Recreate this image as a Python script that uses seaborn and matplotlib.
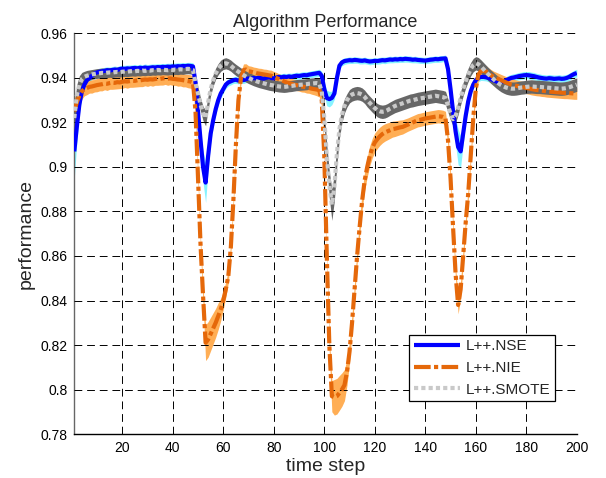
import numpy as np
import pandas as pd
import matplotlib
matplotlib.use("Agg")
import matplotlib.pyplot as plt
import seaborn as sns

# ---- data -----------------------------------------------------------------
time_step = list(range(1, 201))

nse = [
    0.907, 0.918, 0.928, 0.934, 0.937, 0.939, 0.940, 0.941, 0.942, 0.9425,
    0.9428, 0.943, 0.9432, 0.9435, 0.9433, 0.9436, 0.9438, 0.9436, 0.944, 0.9442,
    0.9441, 0.9443, 0.9442, 0.9444, 0.9445, 0.9443, 0.9446, 0.9444, 0.9447, 0.9445,
    0.9446, 0.9448, 0.9447, 0.9449, 0.9448, 0.945, 0.9449, 0.9451, 0.945, 0.9452,
    0.9451, 0.9453, 0.9452, 0.9454, 0.9453, 0.9455, 0.9454, 0.9452, 0.938, 0.925,
    0.912, 0.900, 0.893, 0.905, 0.915, 0.921, 0.926, 0.930, 0.933, 0.935,
    0.937, 0.938, 0.9385, 0.939, 0.9392, 0.9388, 0.9393, 0.939, 0.9395, 0.9398,
    0.9396, 0.9400, 0.9398, 0.9402, 0.9399, 0.9397, 0.9401, 0.9403, 0.9400, 0.9398,
    0.9402, 0.9405, 0.9403, 0.9406, 0.9404, 0.9407, 0.9405, 0.9408, 0.9410, 0.9409,
    0.9411, 0.9413, 0.9412, 0.9415, 0.9417, 0.9419, 0.9421, 0.9423, 0.941, 0.935,
    0.931, 0.9305, 0.931, 0.933, 0.940, 0.9455, 0.9470, 0.9476, 0.9478, 0.9480,
    0.9479, 0.9481, 0.9480, 0.9478, 0.9477, 0.9479, 0.9476, 0.9474, 0.9475, 0.9477,
    0.9476, 0.9478, 0.9480, 0.9479, 0.9481, 0.9483, 0.9482, 0.9484, 0.9483, 0.9485,
    0.9484, 0.9486, 0.9485, 0.9484, 0.9482, 0.9483, 0.9481, 0.948, 0.9479, 0.9478,
    0.9480, 0.9482, 0.9483, 0.9485, 0.9484, 0.9486, 0.9487, 0.9488, 0.944, 0.935,
    0.925, 0.916, 0.909, 0.907, 0.915, 0.923, 0.9295, 0.934, 0.937, 0.939,
    0.940, 0.9405, 0.9405, 0.9403, 0.940, 0.9395, 0.939, 0.9385, 0.938, 0.9382,
    0.9386, 0.939, 0.9395, 0.9400, 0.9402, 0.9405, 0.9408, 0.941, 0.9412, 0.9413,
    0.9412, 0.941, 0.9408, 0.9405, 0.9402, 0.9400, 0.9398, 0.9397, 0.9399, 0.9398,
    0.9396, 0.9397, 0.9398, 0.9396, 0.9397, 0.940, 0.9405, 0.9412, 0.9418, 0.9422,
]

nie = [
    0.925, 0.929, 0.932, 0.934, 0.935, 0.9355, 0.936, 0.9362, 0.9365, 0.9368,
    0.937, 0.9372, 0.9375, 0.9374, 0.9377, 0.9379, 0.9378, 0.9381, 0.938, 0.9383,
    0.9385, 0.9384, 0.9386, 0.9388, 0.9387, 0.939, 0.9389, 0.9391, 0.9393, 0.9392,
    0.9394, 0.9393, 0.9395, 0.9397, 0.9396, 0.9398, 0.9399, 0.9397, 0.9398, 0.9396,
    0.9395, 0.9393, 0.9392, 0.939, 0.9388, 0.9386, 0.9384, 0.938, 0.925, 0.895,
    0.865, 0.842, 0.821, 0.8225, 0.825, 0.8275, 0.830, 0.833, 0.836, 0.840,
    0.845, 0.851, 0.864, 0.885, 0.910, 0.930, 0.940, 0.9435, 0.9438, 0.943,
    0.9428, 0.9425, 0.9422, 0.942, 0.9418, 0.9416, 0.9414, 0.9412, 0.941, 0.9405,
    0.940, 0.9395, 0.939, 0.9385, 0.938, 0.9377, 0.9374, 0.937, 0.9368, 0.9365,
    0.9362, 0.936, 0.9357, 0.9355, 0.9352, 0.935, 0.9348, 0.9345, 0.930, 0.905,
    0.860, 0.820, 0.797, 0.7965, 0.797, 0.7985, 0.800, 0.802, 0.808, 0.817,
    0.830, 0.845, 0.860, 0.873, 0.885, 0.894, 0.900, 0.905, 0.9085, 0.911,
    0.9125, 0.9138, 0.9148, 0.9155, 0.916, 0.9165, 0.917, 0.9172, 0.9175, 0.9178,
    0.918, 0.9185, 0.919, 0.9195, 0.920, 0.9205, 0.921, 0.9212, 0.9215, 0.9218,
    0.922, 0.9222, 0.9224, 0.9226, 0.9228, 0.9227, 0.9225, 0.922, 0.912, 0.895,
    0.873, 0.852, 0.838, 0.845, 0.860, 0.875, 0.888, 0.905, 0.922, 0.935,
    0.9415, 0.943, 0.9432, 0.943, 0.942, 0.9412, 0.9405, 0.940, 0.9395, 0.939,
    0.9385, 0.938, 0.9375, 0.937, 0.9368, 0.9365, 0.9362, 0.936, 0.9358, 0.9355,
    0.9353, 0.935, 0.9348, 0.9346, 0.9345, 0.9343, 0.9342, 0.934, 0.9339, 0.9338,
    0.9337, 0.9336, 0.9335, 0.9334, 0.9333, 0.9333, 0.9332, 0.9331, 0.933, 0.933,
]

smote = [
    0.922, 0.932, 0.937, 0.9395, 0.9405, 0.941, 0.9413, 0.9416, 0.9418, 0.942,
    0.9421, 0.9423, 0.9422, 0.9424, 0.9425, 0.9424, 0.9426, 0.9427, 0.9426, 0.9428,
    0.9429, 0.9428, 0.943, 0.9431, 0.943, 0.9432, 0.9431, 0.9433, 0.9432, 0.9434,
    0.9433, 0.9435, 0.9434, 0.9436, 0.9435, 0.9437, 0.9436, 0.9435, 0.9437, 0.9436,
    0.9438, 0.9437, 0.9439, 0.9438, 0.944, 0.9441, 0.944, 0.9436, 0.938, 0.933,
    0.928, 0.924, 0.922, 0.929, 0.935, 0.939, 0.942, 0.944, 0.9455, 0.9463,
    0.9466, 0.9462, 0.9455, 0.9445, 0.9436, 0.9428, 0.942, 0.9413, 0.9406, 0.940,
    0.9395, 0.939, 0.9386, 0.9382, 0.9379, 0.9376, 0.9373, 0.937, 0.9368, 0.9366,
    0.9364, 0.9362, 0.9361, 0.936, 0.9361, 0.9363, 0.9364, 0.9366, 0.9368, 0.9369,
    0.937, 0.9371, 0.9372, 0.9374, 0.9375, 0.9376, 0.9377, 0.9375, 0.934, 0.922,
    0.905, 0.892, 0.883, 0.891, 0.906, 0.917, 0.9235, 0.9275, 0.930, 0.9318,
    0.9326, 0.933, 0.9332, 0.933, 0.9325, 0.9315, 0.930, 0.9288, 0.9276, 0.9265,
    0.9255, 0.925, 0.9248, 0.925, 0.9255, 0.9262, 0.9268, 0.9274, 0.9278, 0.9282,
    0.9286, 0.929, 0.9294, 0.9298, 0.930, 0.9303, 0.9306, 0.9308, 0.931, 0.9312,
    0.9314, 0.9316, 0.9318, 0.932, 0.9318, 0.9316, 0.9314, 0.931, 0.9275, 0.924,
    0.9215, 0.923, 0.9265, 0.931, 0.935, 0.9385, 0.9415, 0.944, 0.9458, 0.9466,
    0.9462, 0.9452, 0.944, 0.9428, 0.9416, 0.9405, 0.9395, 0.9385, 0.9376, 0.9368,
    0.9362, 0.9357, 0.9354, 0.9352, 0.9352, 0.9353, 0.9355, 0.9357, 0.9358, 0.936,
    0.9361, 0.9362, 0.9361, 0.936, 0.936, 0.9359, 0.9358, 0.9357, 0.9356, 0.9355,
    0.9354, 0.9353, 0.9352, 0.9352, 0.9353, 0.9355, 0.9358, 0.9362, 0.9366, 0.937,
]

# half-width of the spread band around each mean curve
nse_spread = [
    0.012, 0.007, 0.004, 0.003, 0.0022, 0.002, 0.0018, 0.0017, 0.0016, 0.0016,
    0.0016, 0.0015, 0.0016, 0.0015, 0.0016, 0.0015, 0.0016, 0.0015, 0.0016, 0.0015,
    0.0016, 0.0015, 0.0016, 0.0015, 0.0016, 0.0015, 0.0016, 0.0015, 0.0016, 0.0015,
    0.0016, 0.0015, 0.0016, 0.0015, 0.0016, 0.0015, 0.0016, 0.0015, 0.0016, 0.0015,
    0.0016, 0.0015, 0.0016, 0.0015, 0.0016, 0.0015, 0.0016, 0.0016, 0.002, 0.003,
    0.005, 0.007, 0.009, 0.006, 0.004, 0.003, 0.0025, 0.002, 0.002, 0.0018,
    0.0017, 0.0016, 0.0016, 0.0015, 0.0016, 0.0015, 0.0016, 0.0015, 0.0016, 0.0015,
    0.0016, 0.0015, 0.0016, 0.0015, 0.0016, 0.0015, 0.0016, 0.0015, 0.0016, 0.0015,
    0.0016, 0.0015, 0.0016, 0.0015, 0.0016, 0.0015, 0.0016, 0.0015, 0.0016, 0.0015,
    0.0016, 0.0015, 0.0016, 0.0015, 0.0016, 0.0015, 0.0016, 0.0016, 0.002, 0.003,
    0.0035, 0.0035, 0.003, 0.0025, 0.002, 0.0016, 0.0015, 0.0015, 0.0014, 0.0015,
    0.0014, 0.0015, 0.0014, 0.0015, 0.0014, 0.0015, 0.0014, 0.0015, 0.0014, 0.0015,
    0.0014, 0.0015, 0.0014, 0.0015, 0.0014, 0.0015, 0.0014, 0.0015, 0.0014, 0.0015,
    0.0014, 0.0015, 0.0014, 0.0015, 0.0014, 0.0015, 0.0014, 0.0015, 0.0014, 0.0015,
    0.0014, 0.0015, 0.0014, 0.0015, 0.0014, 0.0015, 0.0014, 0.0015, 0.002, 0.003,
    0.004, 0.006, 0.008, 0.007, 0.005, 0.003, 0.0025, 0.002, 0.0018, 0.0017,
    0.0017, 0.0016, 0.0017, 0.0016, 0.0017, 0.0016, 0.0017, 0.0016, 0.0017, 0.0016,
    0.0017, 0.0016, 0.0017, 0.0016, 0.0017, 0.0016, 0.0017, 0.0016, 0.0017, 0.0016,
    0.0017, 0.0016, 0.0017, 0.0016, 0.0017, 0.0016, 0.0017, 0.0016, 0.0017, 0.0016,
    0.0017, 0.0016, 0.0017, 0.0016, 0.0017, 0.0016, 0.0017, 0.0016, 0.0017, 0.0017,
]

nie_spread = [
    0.006, 0.005, 0.004, 0.0035, 0.003, 0.003, 0.0028, 0.003, 0.0028, 0.003,
    0.0028, 0.003, 0.0028, 0.003, 0.0028, 0.003, 0.0028, 0.003, 0.0028, 0.003,
    0.0028, 0.003, 0.0028, 0.003, 0.0028, 0.003, 0.0028, 0.003, 0.0028, 0.003,
    0.0028, 0.003, 0.0028, 0.003, 0.0028, 0.003, 0.0028, 0.003, 0.0028, 0.003,
    0.0028, 0.003, 0.0028, 0.003, 0.0028, 0.003, 0.003, 0.003, 0.003, 0.003,
    0.003, 0.004, 0.008, 0.008, 0.0075, 0.007, 0.0065, 0.006, 0.005, 0.004,
    0.0035, 0.003, 0.003, 0.003, 0.003, 0.003, 0.0028, 0.0028, 0.0026, 0.0025,
    0.0025, 0.0024, 0.0025, 0.0024, 0.0025, 0.0024, 0.0025, 0.0024, 0.0025, 0.0024,
    0.0025, 0.0024, 0.0025, 0.0024, 0.0025, 0.0024, 0.0025, 0.0024, 0.0025, 0.0024,
    0.0025, 0.0024, 0.0025, 0.0024, 0.0025, 0.0026, 0.0028, 0.003, 0.003, 0.003,
    0.003, 0.004, 0.007, 0.008, 0.008, 0.0078, 0.0075, 0.007, 0.006, 0.005,
    0.004, 0.0035, 0.0035, 0.004, 0.0042, 0.0044, 0.0045, 0.0045, 0.0044, 0.0043,
    0.0042, 0.0041, 0.004, 0.0039, 0.0038, 0.0037, 0.0036, 0.0035, 0.0034, 0.0033,
    0.0032, 0.0031, 0.003, 0.003, 0.003, 0.003, 0.003, 0.003, 0.003, 0.003,
    0.003, 0.003, 0.003, 0.003, 0.003, 0.003, 0.003, 0.003, 0.003, 0.003,
    0.003, 0.003, 0.004, 0.004, 0.0035, 0.003, 0.003, 0.003, 0.003, 0.003,
    0.0028, 0.0027, 0.0027, 0.0026, 0.0026, 0.0026, 0.0026, 0.0026, 0.0026, 0.0026,
    0.0026, 0.0026, 0.0026, 0.0026, 0.0026, 0.0026, 0.0026, 0.0026, 0.0026, 0.0026,
    0.0026, 0.0026, 0.0026, 0.0026, 0.0026, 0.0026, 0.0026, 0.0026, 0.0026, 0.0026,
    0.0026, 0.0026, 0.0026, 0.0026, 0.0026, 0.0026, 0.0026, 0.0026, 0.0026, 0.0026,
]

smote_spread = [
    0.006, 0.005, 0.004, 0.003, 0.0025, 0.0024, 0.0023, 0.0022, 0.0022, 0.0022,
    0.0022, 0.0022, 0.0022, 0.0022, 0.0022, 0.0022, 0.0022, 0.0022, 0.0022, 0.0022,
    0.0022, 0.0022, 0.0022, 0.0022, 0.0022, 0.0022, 0.0022, 0.0022, 0.0022, 0.0022,
    0.0022, 0.0022, 0.0022, 0.0022, 0.0022, 0.0022, 0.0022, 0.0022, 0.0022, 0.0022,
    0.0022, 0.0022, 0.0022, 0.0022, 0.0022, 0.0022, 0.0022, 0.0022, 0.0025, 0.0028,
    0.003, 0.0032, 0.0035, 0.003, 0.0028, 0.0026, 0.0025, 0.0025, 0.0025, 0.0025,
    0.0025, 0.0025, 0.0025, 0.0025, 0.0025, 0.0025, 0.0025, 0.0025, 0.0025, 0.0025,
    0.0025, 0.0025, 0.0025, 0.0025, 0.0025, 0.0025, 0.0025, 0.0025, 0.0025, 0.0025,
    0.0025, 0.0025, 0.0025, 0.0025, 0.0025, 0.0025, 0.0025, 0.0025, 0.0025, 0.0025,
    0.0025, 0.0025, 0.0025, 0.0025, 0.0025, 0.0025, 0.0025, 0.0025, 0.003, 0.004,
    0.005, 0.006, 0.007, 0.006, 0.005, 0.004, 0.0035, 0.0032, 0.003, 0.003,
    0.003, 0.003, 0.003, 0.003, 0.003, 0.003, 0.003, 0.003, 0.003, 0.003,
    0.003, 0.003, 0.003, 0.003, 0.003, 0.003, 0.003, 0.003, 0.003, 0.003,
    0.003, 0.003, 0.003, 0.003, 0.003, 0.003, 0.003, 0.003, 0.003, 0.003,
    0.003, 0.003, 0.003, 0.003, 0.003, 0.003, 0.003, 0.003, 0.003, 0.003,
    0.003, 0.003, 0.003, 0.003, 0.003, 0.003, 0.003, 0.003, 0.003, 0.003,
    0.003, 0.003, 0.003, 0.003, 0.003, 0.003, 0.003, 0.003, 0.003, 0.003,
    0.003, 0.003, 0.003, 0.003, 0.003, 0.003, 0.003, 0.003, 0.003, 0.003,
    0.003, 0.003, 0.003, 0.003, 0.003, 0.003, 0.003, 0.003, 0.003, 0.003,
    0.003, 0.003, 0.003, 0.003, 0.003, 0.003, 0.003, 0.003, 0.003, 0.003,
]

series_names = ["L++.NSE", "L++.NIE", "L++.SMOTE"]
x_ticks = [20, 40, 60, 80, 100, 120, 140, 160, 180, 200]
y_ticks = [0.78, 0.80, 0.82, 0.84, 0.86, 0.88, 0.90, 0.92, 0.94, 0.96]
y_tick_labels = ["0.78", "0.8", "0.82", "0.84", "0.86", "0.88", "0.9", "0.92", "0.94", "0.96"]

df = pd.DataFrame({
    "time step": time_step * 3,
    "performance": nse + nie + smote,
    "spread": nse_spread + nie_spread + smote_spread,
    "method": sum([[n] * len(time_step) for n in series_names], []),
})

# ---- styling ----------------------------------------------------------------
sns.set_style("white")
plt.rcParams["font.family"] = ["Liberation Sans", "DejaVu Sans"]

line_color = {"L++.NSE": "#0000FF", "L++.NIE": "#E5680A", "L++.SMOTE": "#C9C9C9"}
band_color = {"L++.NSE": "#86F3FF", "L++.NIE": "#FFAE55", "L++.SMOTE": "#676767"}
line_dash = {"L++.NSE": None, "L++.NIE": (4.0, 0.8, 1.0, 0.8), "L++.SMOTE": (1.0, 0.75)}

fig = plt.figure(figsize=(6.06, 4.78), dpi=100)
ax = fig.add_axes([0.1226, 0.092, 0.8292, 0.838])

# spread bands first, mean curves on top
for name in series_names:
    sub = df[df["method"] == name]
    ax.fill_between(sub["time step"], sub["performance"] - sub["spread"],
                    sub["performance"] + sub["spread"],
                    color=band_color[name], lw=0, zorder=1)

for name in series_names:
    sub = df[df["method"] == name]
    sns.lineplot(data=sub, x="time step", y="performance", ax=ax,
                 color=line_color[name], lw=3.0, label=name,
                 errorbar=None, zorder=3)
    ln = ax.lines[-1]
    ln.set_solid_capstyle("butt")
    if line_dash[name] is not None:
        ln.set_dashes(line_dash[name])
        ln.set_dash_capstyle("butt")

ax.set_xlim(1, 200)
ax.set_ylim(0.78, 0.96)
ax.set_xticks(x_ticks)
ax.set_yticks(y_ticks)
ax.set_yticklabels(y_tick_labels)
ax.tick_params(axis="both", direction="in", length=4, labelsize=10, colors="black",
               pad=5)
ax.tick_params(axis="y", color="#555555")

ax.grid(True, color="black", lw=0.7, linestyle=(0, (8, 5)))
ax.set_axisbelow(False)
for gl in ax.get_xgridlines() + ax.get_ygridlines():
    gl.set_zorder(2)

for side in ["top", "right"]:
    ax.spines[side].set_visible(False)
ax.spines["left"].set_color("#666666")
ax.spines["bottom"].set_color("black")
for side in ["left", "bottom"]:
    ax.spines[side].set_linewidth(1.0)

ax.set_title("Algorithm Performance", fontsize=13, pad=5)
ax.set_xlabel("time step", fontsize=14, labelpad=2)
ax.set_ylabel("performance", fontsize=14, labelpad=4)

leg = ax.legend(loc="lower right", bbox_to_anchor=(0.957, 0.082), borderaxespad=0,
                fancybox=False, framealpha=1, edgecolor="black", fontsize=11,
                handlelength=3.0, handletextpad=0.4, labelspacing=0.5,
                borderpad=0.3)
leg.get_frame().set_linewidth(0.9)
for h in leg.get_lines():
    h.set_linewidth(3.0)

fig.savefig("out.png", dpi=100)
